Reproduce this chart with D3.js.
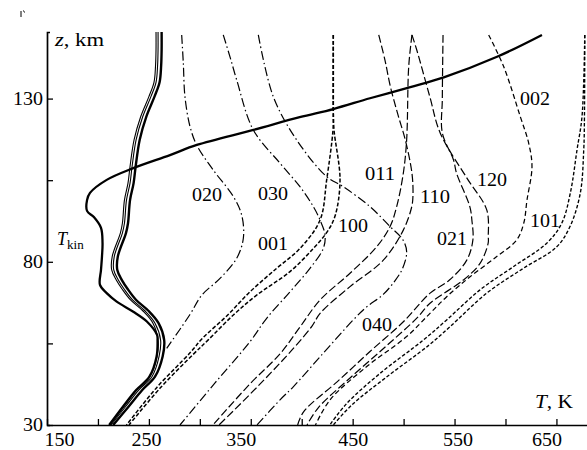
<!DOCTYPE html>
<html>
<head>
<meta charset="utf-8">
<script src="https://cdn.jsdelivr.net/npm/d3@7"></script>
<style>
  body { margin: 0; background: #fff; }
  svg { display: block; }
  text { font-family: "Liberation Serif", "Times New Roman", serif; fill: #000; }
</style>
</head>
<body>
<div id="chart"></div>
<script>
const width = 587;
const height = 450;

// tick values
const xTicks = [150, 200, 250, 300, 350, 400, 450, 500, 550, 600, 650];
const xTickLabels = [150, 250, 350, 450, 550, 650];
const yTicks = [30, 55, 80, 105, 130];
const yTickLabels = [30, 80, 130];

// the bundle of solid profiles at left (three lines)
const zBundle = [30, 35.6, 40.7, 44.8, 51, 56, 61.2, 65, 68.3, 71.5, 74.4, 77.5, 81.6, 88.8, 91.8, 98.9, 104.1, 109.2, 117.4, 124.5, 130.6, 135, 139.9, 145, 150.4];
const tBundleThick = [215, 230, 243.5, 256, 263.5, 265, 259.5, 249.5, 237.5, 229.5, 223.5, 219, 219.5, 227.5, 229.5, 231.5, 235, 237, 241, 247.5, 255.5, 260.5, 262, 262.5, 262.5];
const tBundleThinA = [213, 227, 240, 253, 260, 261.5, 256, 246, 234, 226, 220, 215.5, 216, 224, 226, 228, 231.5, 233.5, 237.5, 244, 252, 257, 258.5, 259, 259];
const tBundleThinB = [212, 225.5, 238, 251, 258, 259, 254, 244, 232, 224, 218, 213.5, 214, 222, 224, 226, 229.5, 231.5, 235.5, 242, 250, 255, 256.5, 257, 257];

// kinetic temperature
const zKin = [30, 35.6, 40.7, 44.8, 50.9, 56, 57.6, 61.7, 64.7, 67.8, 70.4, 72.9, 77.5, 81.8, 85.8, 90.4, 93.7, 95.6, 98.9, 101.1, 105.1, 108.7, 112.7, 115.8, 120.4, 124.3, 126.8, 130.1, 133.5, 136.5, 142.8, 149.5];
const tKin = [211, 224.5, 237.5, 250.5, 257.5, 258.5, 258, 248, 234.7, 218.4, 208.6, 202, 203, 204, 204.5, 203, 196, 189.3, 189.3, 192.2, 208.6, 234.7, 270.7, 297, 352.5, 398, 431, 467, 506.6, 539.4, 591.7, 635.8];

// vibrational temperatures
const z020 = [149.5, 140.8, 130.6, 121.4, 115.8, 108.1, 100.0, 94.3, 87.2, 81.1, 74.9, 69.8, 63.7, 53.5];
const t020 = [282.2, 283.8, 285.4, 290.4, 296.9, 313.2, 332.9, 341.1, 342.7, 336.2, 319.8, 302, 290, 267.5];

const z030 = [149.5, 142.8, 135.7, 120.4, 110.2, 103.0, 96.9, 92.8, 88.2, 84.1, 78.0, 70.8, 62.7, 55.5, 42.9, 30];
const t030 = [323.0, 329.6, 336.2, 352.5, 378.7, 398.3, 411.4, 418.0, 422.9, 421.2, 408.1, 388.5, 365.6, 349.2, 314.9, 280.5];

const z040 = [149.5, 130.6, 117.3, 106.1, 103.0, 96.9, 90.8, 86.7, 83.0, 78, 74.4, 70, 66.2, 62.2, 50.9, 41.7, 37.7, 30];
const t040 = [357.4, 372.1, 395.1, 424.5, 440.8, 467.0, 486.7, 499.4, 503, 499, 492, 480, 463.8, 450.6, 418.0, 391.7, 378.7, 356.1];

const z001 = [149.5, 126.5, 120.4, 105.1, 92.8, 84.1, 78.0, 70.8, 63.4, 56.7, 52.1, 41.6, 30];
const t001 = [431.0, 431.0, 430.7, 424.5, 418.0, 398.3, 375.4, 349.2, 326.4, 303, 290.4, 258, 228];

const z100 = [149.5, 126.5, 120.4, 105.1, 94.0, 89.1, 84.1, 77.0, 69.8, 63.7, 56, 51.8, 41.3, 30];
const t100 = [431.0, 431.0, 431.7, 437.6, 432.7, 424.8, 411.4, 388.5, 355.8, 332.9, 308, 294, 261, 230.5];

const z011 = [149.5, 139.8, 117.4, 107.1, 96.9, 90.8, 84.6, 76.5, 68.3, 60.0, 51.8, 42.6, 30];
const t011 = [508.2, 505.0, 503.0, 499.7, 493.2, 486.7, 473.6, 447.4, 418.0, 398.3, 378.7, 349.2, 312.9];

const z110 = [149.5, 141.8, 133.7, 125.0, 117.3, 107.1, 100.4, 96.9, 89.7, 80.5, 72.4, 64.2, 60.3, 53.0, 41.9, 30];
const t110 = [475.6, 481.7, 487.0, 494.5, 501.7, 508.2, 509.2, 508.0, 499.7, 480.1, 447.4, 418.0, 410.1, 390.5, 357.1, 318.8];

const z021 = [149.5, 130, 119.5, 111.2, 107.1, 96.9, 92.8, 86.7, 80.5, 74.4, 70.4, 61.7, 52.5, 43.3, 34.1, 30];
const t021 = [538.7, 538, 538, 549, 552, 565, 567, 568, 562, 545, 526, 500, 467, 435, 402, 396];

const z120 = [149.5, 144.8, 130.6, 119.4, 105.7, 95.9, 87.7, 85.7, 79.5, 74.4, 67.3, 62.8, 53.6, 44.4, 35.2, 30];
const t120 = [508.2, 513, 525.7, 536, 562, 581.6, 583.1, 583, 575, 558.6, 525.9, 513.2, 480.8, 447.4, 416, 405.2];

const z002 = [149.5, 139.8, 124.5, 116.3, 109.1, 98.9, 91.8, 86.7, 81.6, 75.4, 69.3, 64.2, 57.1, 47.9, 37.7, 30];
const t002 = [583.5, 598.2, 614.5, 622.8, 626.0, 621.1, 617.9, 611.0, 591.4, 565.2, 542.3, 525.9, 503.0, 463.8, 427.8, 413.5];

const z101a = [149.5, 124.5, 114.3, 101.0, 91.8, 85.7, 78.5, 71.4, 62.2, 56.0, 45.8, 36.6, 30];
const t101a = [677.8, 675.1, 670.2, 663.6, 655.2, 640.5, 607.7, 575.0, 542.3, 519.3, 476.8, 444.2, 427.5];
const z101b = [149.5, 124.5, 114.3, 101.0, 90.8, 84.6, 78.0, 70.4, 60.1, 54.5, 44.4, 36.1, 30];
const t101b = [677.8, 677.5, 676.8, 673.4, 663.3, 650.3, 617.5, 581.6, 545.5, 525, 482, 449, 431];

// curve labels (text, T, z of left end / baseline)
const curveLabels = ["020", "030", "100", "001", "011", "110", "120", "021", "002", "101", "040"];
const curveLabelT = [292.3, 357.1, 435.6, 357.1, 462.1, 516.1, 572.0, 532.8, 614.2, 624.1, 459.2];
const curveLabelZ = [98.6, 98.9, 89.1, 83.6, 105.1, 98.1, 103.2, 85.2, 128.0, 90.7, 58.8];

const x = d3.scaleLinear().domain([150, 680]).range([47, 587]);
const y = d3.scaleLinear().domain([30, 150.4]).range([425, 32]);

const svg = d3.select("#chart").append("svg")
    .attr("width", width)
    .attr("height", height);

const dashDot = "9,3,1.5,3";
const series = [
  {z: zBundle, t: tBundleThinB, w: 1.1, dash: null},
  {z: zBundle, t: tBundleThinA, w: 1.1, dash: null},
  {z: zBundle, t: tBundleThick, w: 2.4, dash: null},
  {z: zKin, t: tKin, w: 2.3, dash: null},
  {z: z020, t: t020, w: 1.2, dash: dashDot},
  {z: z030, t: t030, w: 1.2, dash: dashDot},
  {z: z040, t: t040, w: 1.2, dash: dashDot},
  {z: z001, t: t001, w: 1.5, dash: "4,2"},
  {z: z100, t: t100, w: 1.5, dash: "4,2"},
  {z: z011, t: t011, w: 1.2, dash: "8,3"},
  {z: z110, t: t110, w: 1.2, dash: "8,3"},
  {z: z021, t: t021, w: 1.2, dash: "8,3"},
  {z: z120, t: t120, w: 1.2, dash: "8,3"},
  {z: z002, t: t002, w: 1.25, dash: "5,3"},
  {z: z101a, t: t101a, w: 1.35, dash: "3.5,2"},
  {z: z101b, t: t101b, w: 1.35, dash: "3.5,2"}
];

const line = d3.line()
    .x(d => x(d[1]))
    .y(d => y(d[0]))
    .curve(d3.curveCatmullRom.alpha(0.5));

svg.append("g")
    .attr("fill", "none")
    .attr("stroke", "#000")
  .selectAll("path")
  .data(series)
  .join("path")
    .attr("d", s => line(s.z.map((z, i) => [z, s.t[i]])))
    .attr("stroke-width", s => s.w)
    .attr("stroke-dasharray", s => s.dash);

// axes, ticks pointing inside
const xAxis = d3.axisBottom(x)
    .tickValues(xTicks)
    .tickSizeInner(-6)
    .tickSizeOuter(0)
    .tickPadding(8)
    .tickFormat(d => xTickLabels.includes(d) ? d : "");

const yAxis = d3.axisLeft(y)
    .tickValues(yTicks)
    .tickSizeInner(-6)
    .tickSizeOuter(-3)
    .tickPadding(4)
    .tickFormat(d => yTickLabels.includes(d) ? d : "");

const gx = svg.append("g")
    .attr("transform", `translate(0,${y(30)})`)
    .call(xAxis);

const gy = svg.append("g")
    .attr("transform", `translate(${x(150)},0)`)
    .call(yAxis);

// scanned digits are a bit wider than Liberation Serif
const widen = sel => sel.filter(function() { return this.textContent.length > 0; })
    .attr("textLength", function() { return this.textContent.length * 10; })
    .attr("lengthAdjust", "spacingAndGlyphs");

[gx, gy].forEach(g => {
  g.select(".domain").attr("stroke-width", 1.7);
  g.selectAll(".tick line").attr("stroke-width", 1.3);
  g.selectAll("text").attr("font-size", 18).attr("font-family", '"Liberation Serif", serif');
  widen(g.selectAll(".tick text"));
});

// the scanned labels sit a little off their ticks
const xLabelShift = {150: 12, 250: -3, 350: -10, 550: 3, 650: -10};
gx.selectAll(".tick text").attr("dx", d => xLabelShift[d] || 0);

// axis titles
const zt = svg.append("text")
    .attr("x", 55)
    .attr("y", 46)
    .attr("font-size", 18)
    .attr("textLength", 49)
    .attr("lengthAdjust", "spacingAndGlyphs");
zt.append("tspan").attr("font-style", "italic").text("z");
zt.append("tspan").text(", km");

const tt = svg.append("text")
    .attr("x", 535)
    .attr("y", 408)
    .attr("font-size", 18)
    .attr("textLength", 38)
    .attr("lengthAdjust", "spacingAndGlyphs");
tt.append("tspan").attr("font-style", "italic").text("T");
tt.append("tspan").text(", K");

const tk = svg.append("text")
    .attr("x", 57)
    .attr("y", 245)
    .attr("font-size", 18);
tk.append("tspan").attr("font-style", "italic").text("T");
tk.append("tspan").attr("font-size", 13).attr("dy", 4).text("kin");

// curve labels
svg.append("g")
    .attr("font-size", 18)
  .selectAll("text")
  .data(curveLabels)
  .join("text")
    .attr("x", (d, i) => x(curveLabelT[i]))
    .attr("y", (d, i) => y(curveLabelZ[i]))
    .text(d => d)
    .call(widen);

// small scan mark in the upper left corner
svg.append("path")
    .attr("d", "M21,11V17M23.5,10.5L24.5,12.5")
    .attr("stroke", "#000")
    .attr("stroke-width", 1)
    .attr("fill", "none");
</script>
</body>
</html>
